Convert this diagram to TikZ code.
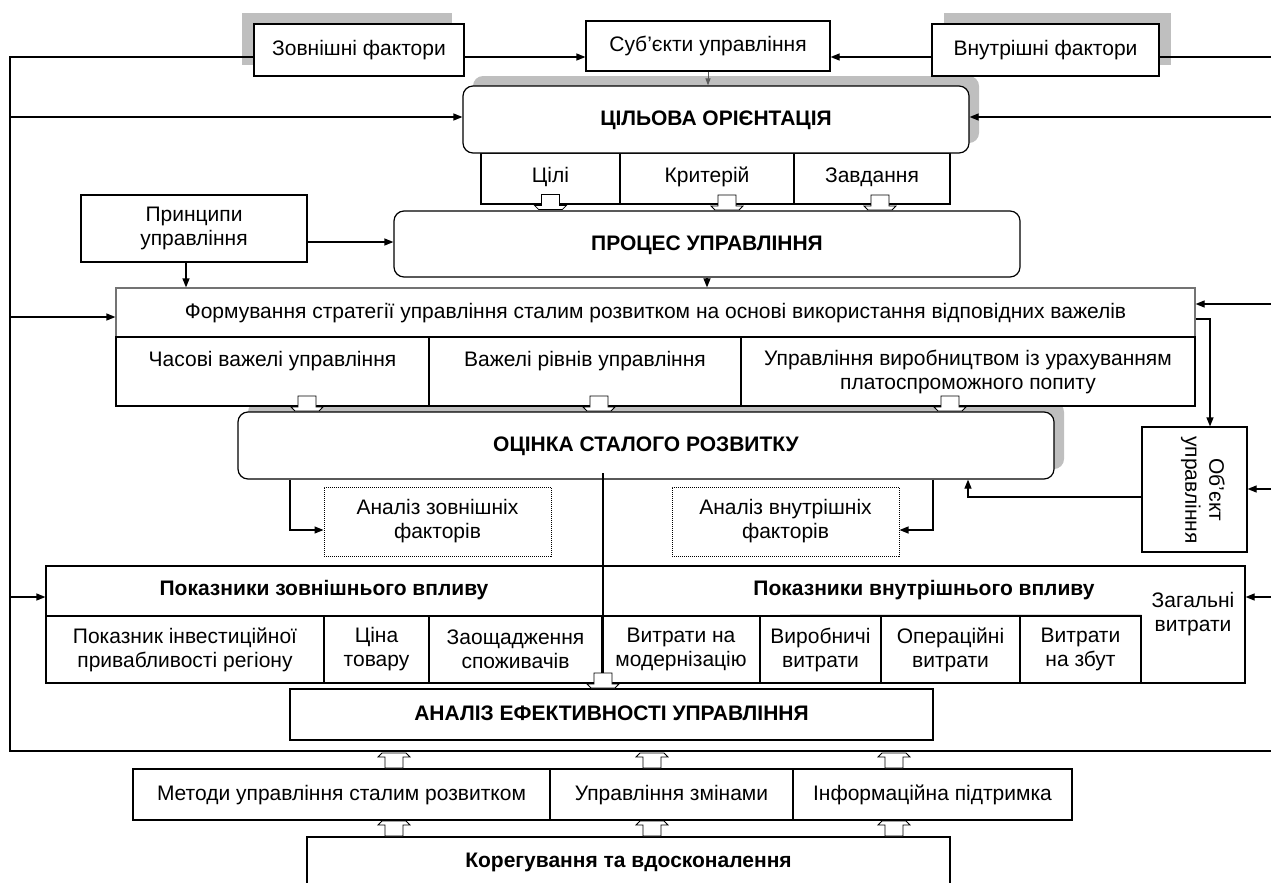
\documentclass[tikz,border=0pt]{standalone}
\usepackage{fontspec}
\setmainfont{Liberation Sans}
\usetikzlibrary{arrows.meta,calc}
\newcommand\fsz{\fontsize{21}{24}\selectfont}
\tikzset{
  box/.style={draw, line width=1.2pt, fill=white, inner sep=0pt, align=center, font=\fsz},
  one/.style={text height=17pt, text depth=5pt},
  rbox/.style={box, rounded corners=10pt},
  dbox/.style={draw, densely dotted, line width=1pt, fill=white, inner sep=0pt, align=center, font=\fsz},
  lbl/.style={inner sep=0pt, align=center, font=\fsz},
  blbl/.style={inner sep=0pt, align=center, font=\fsz\bfseries},
  ln/.style={line width=1.2pt},
  arr/.style={line width=1.2pt, -{Triangle[length=9pt,width=7pt]}},
  shd/.style={fill=black!25},
  darrow/.pic={\draw[line width=0.8pt, fill=white] (-9,-16) -- (9,-16) -- (9,-5) -- (16,-5) -- (12,-1) -- (-12,-1) -- (-16,-5) -- (-9,-5) -- cycle;},
  uarrow/.pic={\draw[line width=0.8pt, fill=white] (-9,16) -- (9,16) -- (9,5) -- (16,5) -- (12,1) -- (-12,1) -- (-16,5) -- (-9,5) -- cycle;}
}
\begin{document}
\begin{tikzpicture}[x=1pt,y=-1pt]
\useasboundingbox (0,0) rectangle (1271,883);
% shadows
\fill[shd] (242,13) rectangle (452,65);
\fill[shd] (944,13) rectangle (1171,65);
\fill[shd, rounded corners=10pt] (473,76) rectangle (979,143);
\fill[shd, rounded corners=10pt] (248,402) rectangle (1064,469);
% top row
\node[box, one, minimum width=210, minimum height=52] (zf) at (359,50) {Зовнішні фактори};
\node[box, one, minimum width=244, minimum height=50] (sub) at (708,46) {Суб’єкти управління};
\node[box, one, minimum width=227, minimum height=52] (vf) at (1045.5,50) {Внутрішні фактори};
% goal orientation
\node[box, minimum width=139, minimum height=51] (c1) at (550.5,178.5) {};
\node[box, minimum width=174, minimum height=51] (c2) at (707,178.5) {};
\node[box, minimum width=156, minimum height=51] (c3) at (872,178.5) {};
\node[lbl, anchor=base] (t1) at (c1 |- 0,182) {Цілі};
\node[lbl, anchor=base] (t2) at (c2 |- 0,182) {Критерій};
\node[lbl, anchor=base] (t3) at (c3 |- 0,182) {Завдання};
\node[rbox, one, minimum width=506, minimum height=67] (co) at (716,119.5) {\bfseries ЦІЛЬОВА ОРІЄНТАЦІЯ};
% process
\node[box, minimum width=226, minimum height=67] (pr) at (194,228.5) {Принципи\\управління};
\node[rbox, one, minimum width=626, minimum height=66] (pu) at (707,244) {\bfseries ПРОЦЕС УПРАВЛІННЯ};
% strategy
\node[box, one, draw=black!55, minimum width=1079, minimum height=49] (fs) at (655.5,312.5) {Формування стратегії управління сталим розвитком на основі використання відповідних важелів};
\node[box, minimum width=313, minimum height=69] (v1) at (272.5,371.5) {};
\node[box, minimum width=312, minimum height=69] (v2) at (585,371.5) {};
\node[box, minimum width=454, minimum height=69] (v3) at (968,371.5) {};
\node[lbl, anchor=base] (tv1) at (v1 |- 0,366) {Часові важелі управління};
\node[lbl, anchor=base] (tv2) at (v2 |- 0,366) {Важелі рівнів управління};
\node[lbl] (tv3) at (v3 |- 0,372) {Управління виробництвом із урахуванням\\платоспроможного попиту};
% assessment
\node[rbox, one, minimum width=816, minimum height=67] (oc) at (646,445.5) {\bfseries ОЦІНКА СТАЛОГО РОЗВИТКУ};
\node[dbox, minimum width=227, minimum height=69] (azf) at (437.5,521.5) {Аналіз зовнішніх\\факторів};
\node[dbox, minimum width=227, minimum height=69] (avf) at (785.5,521.5) {Аналіз внутрішніх\\факторів};
\node[box, minimum width=105, minimum height=125] (obj) at (1194.5,489.5) {};
\node[lbl, rotate=-90] (tobj) at (1203,490) {Об’єкт\\управління};
% indicators
\node[box, minimum width=1199, minimum height=117] (pk) at (645.5,624.5) {};
\node[box, minimum width=278, minimum height=67] (p1) at (185,649.5) {Показник інвестиційної\\привабливості регіону};
\node[box, minimum width=105, minimum height=67] (p2) at (376.5,649.5) {Ціна\\товару};
\node[box, minimum width=173, minimum height=67] (p3) at (515.5,649.5) {Заощадження\\споживачів};
\node[box, minimum width=158, minimum height=67] (p4) at (681,649.5) {Витрати на\\модернізацію};
\node[box, minimum width=121, minimum height=67] (p5) at (820.5,649.5) {Виробничі\\витрати};
\node[box, minimum width=139, minimum height=67] (p6) at (950.5,649.5) {Операційні\\витрати};
\node[box, minimum width=121, minimum height=67] (p7) at (1080.5,649.5) {Витрати\\на збут};
\draw[ln] (pk.west |- 0,616) -- (p7.north east);
\node[blbl, anchor=base] (h1) at (324,595) {Показники зовнішнього впливу};
\node[blbl, anchor=base] (h2) at (924,595) {Показники внутрішнього впливу};
\node[lbl] (h3) at (1193,614) {Загальні\\витрати};
% efficiency
\node[box, one, minimum width=643, minimum height=51] (ae) at (611.5,714.5) {\bfseries АНАЛІЗ ЕФЕКТИВНОСТІ УПРАВЛІННЯ};
\node[box, one, minimum width=417, minimum height=51] (m1) at (341.5,794.5) {Методи управління сталим розвитком};
\node[box, one, minimum width=243, minimum height=51] (m2) at (671.5,794.5) {Управління змінами};
\node[box, one, minimum width=279, minimum height=51] (m3) at (932.5,794.5) {Інформаційна підтримка};
\node[box, one, minimum width=643, minimum height=49] (kv) at (628.5,861.5) {\bfseries Корегування та вдосконалення};
% connectors
\coordinate (L1) at (10,57);
\coordinate (L2) at (10,751);
\coordinate (R2) at (1271,751);
\coordinate (R1) at (1271,57);
\draw[ln] (zf.west |- L1) -- (L1) -- (L2) -- (R2);
\draw[arr] (zf.east |- L1) -- (sub.west |- L1);
\draw[arr] (vf.west |- L1) -- (sub.east |- L1);
\draw[ln] (vf.east |- L1) -- (R1);
\draw[draw=black!65, line width=1pt, -{Triangle[length=7pt,width=5pt]}] (sub.south) -- (co.north -| sub.south);
\draw[arr] (L1 |- 0,117) -- (co.west |- 0,117);
\draw[arr] (R1 |- 0,117) -- (co.east |- 0,117);
\draw[arr] (pr.east |- 0,242) -- (pu.west |- 0,242);
\draw[arr] (pr.south -| 186,0) -- (fs.north -| 186,0);
\draw[arr] (pu.south) -- (pu.south |- fs.north);
\draw[arr] (L1 |- 0,317) -- (fs.west |- 0,317);
\draw[arr] (R1 |- 0,304) -- (fs.east |- 0,304);
\draw[arr] (fs.east |- 0,319) -- (1210,319) -- (obj.north -| 1210,0);
\draw[arr] (R1 |- 0,489) -- (obj.east |- 0,489);
\draw[arr] (obj.west |- 0,497) -- (968,497) -- (oc.south -| 968,0);
\draw[arr] (oc.south -| 290,0) -- (290,530) -- (azf.west |- 0,530);
\draw[arr] (oc.south -| 933,0) -- (933,530) -- (avf.east |- 0,530);
\draw[ln] (603,473) -- (603,678);
\draw[arr] (L1 |- 0,597) -- (pk.west |- 0,597);
\draw[arr] (R1 |- 0,597) -- (pk.east |- 0,597);
% block arrows
\pic at (c1.south |- pu.north) {darrow};
\pic at (727,211) {darrow};
\pic at (880,211) {darrow};
\pic at (307,412) {darrow};
\pic at (599,412) {darrow};
\pic at (950,412) {darrow};
\pic at (603,689) {darrow};
\pic at (394,752) {uarrow};
\pic at (652,752) {uarrow};
\pic at (894,752) {uarrow};
\pic at (394,820) {uarrow};
\pic at (652,820) {uarrow};
\pic at (894,820) {uarrow};
\end{tikzpicture}
\end{document}
